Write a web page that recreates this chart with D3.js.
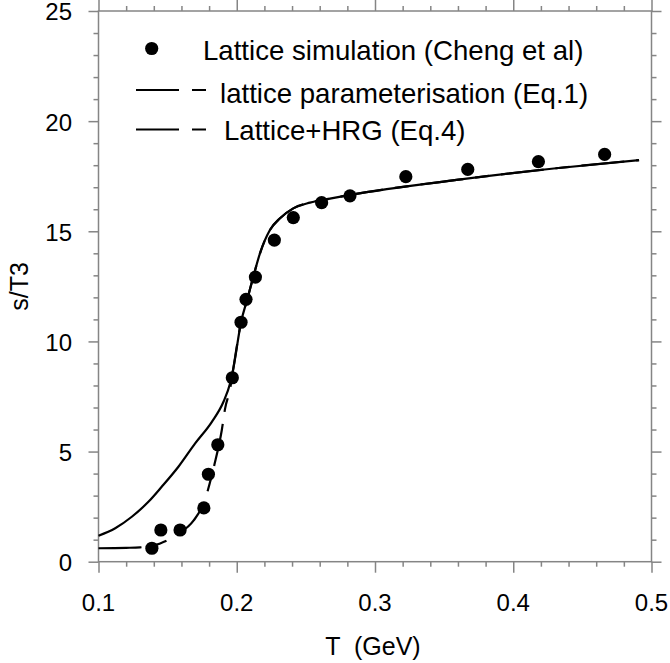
<!DOCTYPE html>
<html>
<head>
<meta charset="utf-8">
<script src="https://cdn.jsdelivr.net/npm/d3@7"></script>
<style>
  html, body { margin: 0; padding: 0; background: #fff; }
  svg { display: block; }
  text { font-family: "Liberation Sans", Arial, Helvetica, sans-serif; fill: #000; }
</style>
</head>
<body>
<svg id="chart" width="670" height="663"></svg>
<script>
// ---- data ----
const latticeT = [0.1386, 0.1451, 0.1590, 0.1762, 0.1795, 0.1863, 0.1968, 0.2031, 0.2067, 0.2135,
                  0.2272, 0.2409, 0.2614, 0.2819, 0.3223, 0.3671, 0.4182, 0.4661];
const latticeS = [0.61, 1.44, 1.44, 2.44, 3.97, 5.31, 8.35, 10.87, 11.91, 12.92,
                  14.60, 15.62, 16.30, 16.61, 17.48, 17.81, 18.16, 18.49];

// lattice parameterisation (Eq.1) - dashed curve
const paramT = [0.100, 0.120, 0.130, 0.1446, 0.1578, 0.1687, 0.1760, 0.1839, 0.1892, 0.1916,
                0.1952, 0.1976, 0.2031, 0.2080, 0.2120, 0.2168, 0.2240, 0.2313, 0.2409, 0.2530,
                0.2674, 0.2820, 0.3590, 0.4310, 0.4910];
const paramS = [0.61, 0.63, 0.65, 0.83, 1.26, 1.86, 2.65, 4.42, 5.98, 6.96,
                7.85, 8.80, 10.87, 12.00, 12.94, 14.00, 15.06, 15.59, 16.04, 16.30,
                16.48, 16.65, 17.33, 17.86, 18.23];

// Lattice+HRG (Eq.4) - solid curve
const hrgT = [0.100, 0.1121, 0.1241, 0.1361, 0.1457, 0.1578, 0.1699, 0.1820, 0.1904, 0.1952,
              0.1976, 0.2031, 0.2080, 0.2120, 0.2168, 0.2240, 0.2313, 0.2409, 0.2530, 0.2674,
              0.2820, 0.3590, 0.4310, 0.4910];
const hrgS = [1.18, 1.52, 2.04, 2.72, 3.40, 4.31, 5.37, 6.35, 7.26, 8.10,
              8.80, 10.87, 12.00, 12.94, 14.00, 15.06, 15.59, 16.04, 16.30, 16.48,
              16.65, 17.33, 17.86, 18.23];

const xTicks = [0.1, 0.2, 0.3, 0.4, 0.5];
const xTickLabels = ["0.1", "0.2", "0.3", "0.4", "0.5"];
const yTicks = [0, 5, 10, 15, 20, 25];
const yTickLabels = ["0", "5", "10", "15", "20", "25"];

const legendLabels = ["Lattice simulation (Cheng et al)", "lattice parameterisation (Eq.1)", "Lattice+HRG (Eq.4)"];

// ---- layout ----
const svg = d3.select("#chart");
const L = 98.5, R = 651.5, T = 11, B = 561.7;
const x = d3.scaleLinear().domain([0.1, 0.5]).range([L, R]);
const y = d3.scaleLinear().domain([0, 25]).range([B, T]);
const axisColor = "#858585";
const dashPattern = "43,12,14,12";

// ---- frame with outward ticks ----
const xMinor = d3.range(0.1, 0.5001, 0.02).filter(v => !xTicks.some(t => Math.abs(t - v) < 1e-6));
const yMinor = d3.range(0, 25.001, 1).filter(v => !yTicks.some(t => Math.abs(t - v) < 1e-6));

function styleAxis(g) {
  g.select(".domain").remove();
  g.selectAll(".tick line").attr("stroke", axisColor).attr("stroke-width", 1.5);
}

// bottom
svg.append("g").attr("transform", `translate(0,${B})`)
  .call(d3.axisBottom(x).tickValues(xMinor).tickSize(5).tickFormat(""))
  .call(styleAxis);
svg.append("g").attr("transform", `translate(0,${B})`)
  .call(d3.axisBottom(x).tickValues(xTicks).tickSize(11).tickFormat(""))
  .call(styleAxis);
// top
svg.append("g").attr("transform", `translate(0,${T})`)
  .call(d3.axisTop(x).tickValues(xMinor).tickSize(5).tickFormat(""))
  .call(styleAxis);
svg.append("g").attr("transform", `translate(0,${T})`)
  .call(d3.axisTop(x).tickValues(xTicks).tickSize(11).tickFormat(""))
  .call(styleAxis);
// left
svg.append("g").attr("transform", `translate(${L},0)`)
  .call(d3.axisLeft(y).tickValues(yMinor).tickSize(5).tickFormat(""))
  .call(styleAxis);
svg.append("g").attr("transform", `translate(${L},0)`)
  .call(d3.axisLeft(y).tickValues(yTicks).tickSize(10).tickFormat(""))
  .call(styleAxis);
// right
svg.append("g").attr("transform", `translate(${R},0)`)
  .call(d3.axisRight(y).tickValues(yMinor).tickSize(5).tickFormat(""))
  .call(styleAxis);
svg.append("g").attr("transform", `translate(${R},0)`)
  .call(d3.axisRight(y).tickValues(yTicks).tickSize(10).tickFormat(""))
  .call(styleAxis);

svg.append("rect")
  .attr("x", L).attr("y", T).attr("width", R - L).attr("height", B - T)
  .attr("fill", "none").attr("stroke", axisColor).attr("stroke-width", 1.5);

// tick labels
svg.append("g").selectAll("text").data(xTicks).join("text")
  .attr("x", d => x(d)).attr("y", 611)
  .attr("text-anchor", "middle").attr("font-size", 24)
  .text((d, i) => xTickLabels[i]);
svg.append("g").selectAll("text").data(yTicks).join("text")
  .attr("x", 72).attr("y", d => y(d)).attr("dy", "0.39em")
  .attr("text-anchor", "end").attr("font-size", 24)
  .text((d, i) => yTickLabels[i]);

// axis titles
svg.append("text").attr("x", 373).attr("y", 655)
  .attr("text-anchor", "middle").attr("font-size", 25)
  .attr("xml:space", "preserve").style("white-space", "pre")
  .text("T  (GeV)");
svg.append("text").attr("transform", `translate(28,${(T + B) / 2}) rotate(-90)`)
  .attr("text-anchor", "middle").attr("font-size", 25).text("s/T3");

// ---- curves ----
const line = d3.line().x(d => x(d[0])).y(d => y(d[1])).curve(d3.curveMonotoneX);
const hrgPts = hrgT.map((t, i) => [t, hrgS[i]]);
const paramPts = paramT.map((t, i) => [t, paramS[i]]);

svg.append("path").datum(paramPts).attr("d", line)
  .attr("fill", "none").attr("stroke", "#000").attr("stroke-width", 2.2)
  .attr("stroke-dasharray", dashPattern);
svg.append("path").datum(hrgPts).attr("d", line)
  .attr("fill", "none").attr("stroke", "#000").attr("stroke-width", 2.2);

// ---- data points ----
svg.append("g").selectAll("circle").data(latticeT.map((t, i) => [t, latticeS[i]])).join("circle")
  .attr("cx", d => x(d[0])).attr("cy", d => y(d[1])).attr("r", 6.6).attr("fill", "#000");

// ---- legend ----
const lg = svg.append("g");
lg.append("circle").attr("cx", 151.7).attr("cy", 48.5).attr("r", 6.6).attr("fill", "#000");
lg.append("text").attr("x", 203).attr("y", 60).attr("font-size", 27.6).text(legendLabels[0]);
[[90, 220, 103], [129.5, 224, 140]].forEach((p, i) => {
  lg.append("line").attr("x1", 136).attr("x2", 206).attr("y1", p[0]).attr("y2", p[0])
    .attr("stroke", "#000").attr("stroke-width", 2).attr("stroke-dasharray", "43,13,14,13");
  lg.append("text").attr("x", p[1]).attr("y", p[2]).attr("font-size", 27.6).text(legendLabels[i + 1]);
});
</script>
</body>
</html>
